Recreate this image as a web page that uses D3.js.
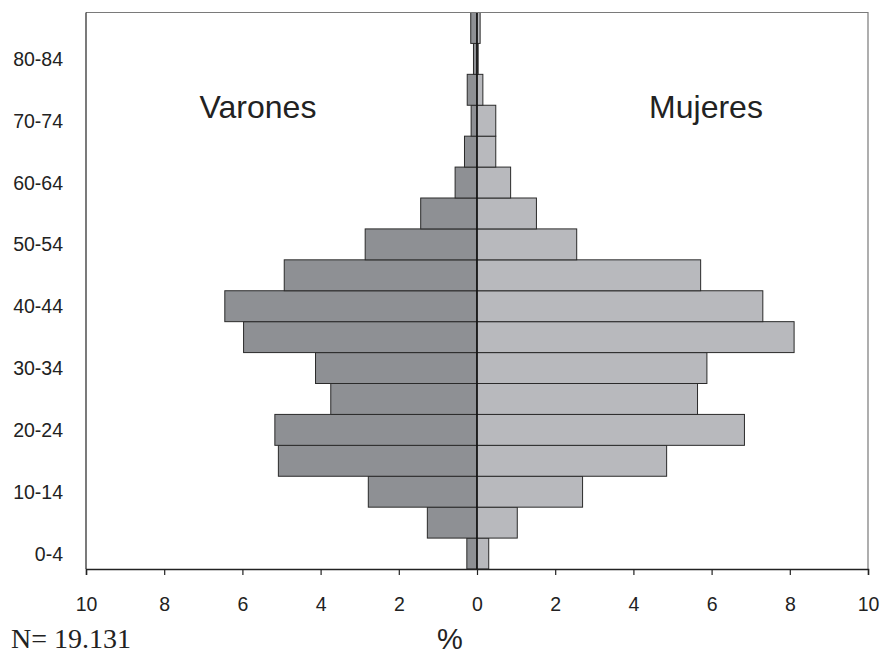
<!DOCTYPE html>
<meta charset="utf-8">
<style>
  body { margin: 0; background: #fff; }
  text { font-family: "Liberation Sans", Arial, sans-serif; fill: #222; }
  .bar { stroke: #2a2a2a; stroke-width: 1px; }
</style>
<body>
<div id="pyramid"></div>
<script src="https://d3js.org/d3.v7.min.js"></script>
<script>
  // age groups, bottom to top
  var groups = ["0-4", "5-9", "10-14", "15-19", "20-24", "25-29", "30-34", "35-39", "40-44",
                "45-49", "50-54", "55-59", "60-64", "65-69", "70-74", "75-79", "80-84", "85-89"];
  // percentage of total population
  var varones = [0.26, 1.27, 2.78, 5.08, 5.17, 3.74, 4.13, 5.97, 6.45,
                 4.93, 2.86, 1.44, 0.56, 0.32, 0.15, 0.25, 0.09, 0.16];
  var mujeres = [0.30, 1.03, 2.70, 4.85, 6.84, 5.64, 5.88, 8.11, 7.31,
                 5.72, 2.55, 1.52, 0.86, 0.48, 0.48, 0.15, 0.03, 0.08];
  var labeled = ["0-4", "10-14", "20-24", "30-34", "40-44", "50-54", "60-64", "70-74", "80-84"];
  var xTicks = [-10, -8, -6, -4, -2, 0, 2, 4, 6, 8, 10];

  var width = 880, height = 655;
  var plot = { left: 86, right: 868, top: 12.5, bottom: 569 };

  var svg = d3.select("#pyramid").append("svg")
    .attr("width", width)
    .attr("height", height);

  var x = d3.scaleLinear().domain([-10, 10]).range([plot.left, plot.right]);
  var y = d3.scaleBand().domain(groups).range([plot.bottom, plot.top]).padding(0);

  // male bars (left side)
  svg.selectAll(".bar.male")
    .data(groups)
    .enter().append("rect")
    .attr("class", "bar male")
    .attr("x", function (d, i) { return x(-varones[i]); })
    .attr("y", function (d) { return y(d); })
    .attr("width", function (d, i) { return x(0) - x(-varones[i]); })
    .attr("height", y.bandwidth())
    .attr("fill", "#8e9094");

  // female bars (right side)
  svg.selectAll(".bar.female")
    .data(groups)
    .enter().append("rect")
    .attr("class", "bar female")
    .attr("x", x(0))
    .attr("y", function (d) { return y(d); })
    .attr("width", function (d, i) { return x(mujeres[i]) - x(0); })
    .attr("height", y.bandwidth())
    .attr("fill", "#b8b9bd");

  // centre line
  svg.append("line")
    .attr("x1", x(0)).attr("x2", x(0))
    .attr("y1", plot.top).attr("y2", plot.bottom)
    .attr("stroke", "#111").attr("stroke-width", 1.5);

  // frame: top and right grey, left black
  svg.append("path")
    .attr("d", "M" + plot.left + "," + plot.top + "H" + plot.right + "V" + plot.bottom)
    .attr("fill", "none").attr("stroke", "#7a7a7a").attr("stroke-width", 1.2);
  svg.append("line")
    .attr("x1", plot.left).attr("x2", plot.left).attr("y1", plot.top).attr("y2", plot.bottom)
    .attr("stroke", "#222").attr("stroke-width", 1.2);

  // bottom axis
  var xAxis = svg.append("g")
    .attr("transform", "translate(0," + plot.bottom + ")")
    .call(d3.axisBottom(x).tickValues(xTicks).tickSize(6).tickPadding(22)
      .tickFormat(function (d) { return Math.abs(d); }));
  xAxis.attr("font-size", null).attr("font-family", null);
  xAxis.select(".domain").attr("stroke", "#222").attr("stroke-width", 1.5);
  xAxis.selectAll(".tick line").attr("stroke", "#222").attr("stroke-width", 1.2);
  xAxis.selectAll(".tick text")
    .style("font-size", "19.5px")
    .attr("fill", "#222");

  // age labels
  svg.selectAll(".age")
    .data(labeled)
    .enter().append("text")
    .attr("class", "age")
    .attr("x", 63)
    .attr("y", function (d) { return y(d) + y.bandwidth() / 2; })
    .attr("dy", "0.36em")
    .attr("text-anchor", "end")
    .style("font-size", "19.5px")
    .text(function (d) { return d; });

  // side titles
  svg.append("text")
    .attr("x", 258).attr("y", 118)
    .attr("text-anchor", "middle")
    .style("font-size", "32px")
    .text("Varones");
  svg.append("text")
    .attr("x", 706).attr("y", 118)
    .attr("text-anchor", "middle")
    .style("font-size", "32px")
    .text("Mujeres");

  // axis title
  svg.append("text")
    .attr("x", 450).attr("y", 649)
    .attr("text-anchor", "middle")
    .style("font-size", "29px")
    .text("%");

  // sample size
  svg.append("text")
    .attr("x", 11).attr("y", 648)
    .style("font-family", "'Liberation Serif', 'Times New Roman', serif")
    .style("font-size", "28px")
    .attr("fill", "#111")
    .text("N= 19.131");
</script>
</body>
